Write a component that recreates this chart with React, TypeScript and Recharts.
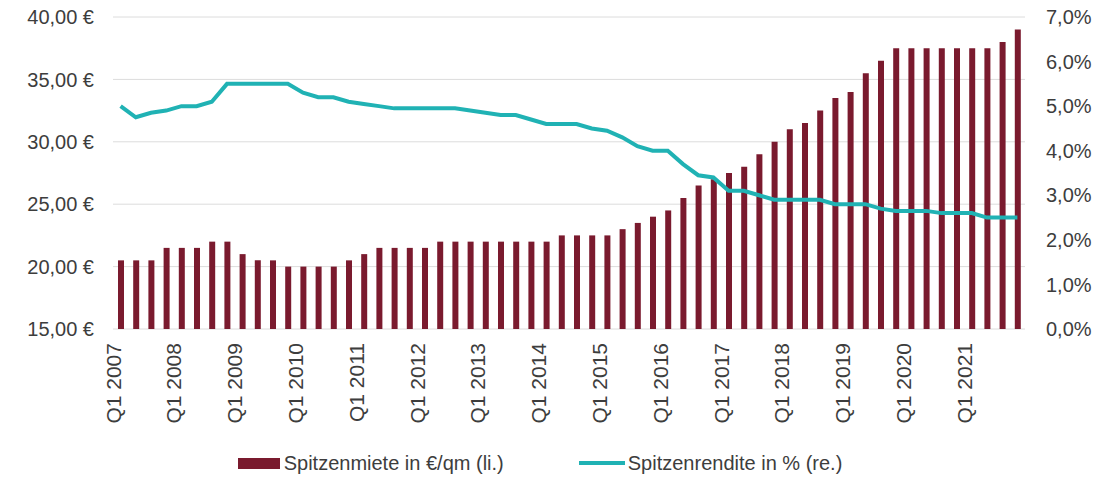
import {
  ComposedChart,
  Bar,
  Line,
  XAxis,
  YAxis,
  CartesianGrid,
  Legend,
} from "recharts";

const YEARS = [2007, 2008, 2009, 2010, 2011, 2012, 2013, 2014, 2015, 2016, 2017, 2018, 2019, 2020, 2021];
const QUARTERS = ["Q1", "Q2", "Q3", "Q4"];

// Spitzenmiete in €/qm (linke Achse)
const RENT = [
  20.5, 20.5, 20.5, 21.5, 21.5, 21.5, 22, 22,
  21, 20.5, 20.5, 20, 20, 20, 20, 20.5,
  21, 21.5, 21.5, 21.5, 21.5, 22, 22, 22,
  22, 22, 22, 22, 22, 22.5, 22.5, 22.5,
  22.5, 23, 23.5, 24, 24.5, 25.5, 26.5, 27,
  27.5, 28, 29, 30, 31, 31.5, 32.5, 33.5,
  34, 35.5, 36.5, 37.5, 37.5, 37.5, 37.5, 37.5,
  37.5, 37.5, 38, 39,
];

// Spitzenrendite in % (rechte Achse)
const YIELD = [
  5.0, 4.75, 4.85, 4.9, 5.0, 5.0, 5.1, 5.5,
  5.5, 5.5, 5.5, 5.5, 5.3, 5.2, 5.2, 5.1,
  5.05, 5.0, 4.95, 4.95, 4.95, 4.95, 4.95, 4.9,
  4.85, 4.8, 4.8, 4.7, 4.6, 4.6, 4.6, 4.5,
  4.45, 4.3, 4.1, 4.0, 4.0, 3.7, 3.45, 3.4,
  3.1, 3.1, 3.0, 2.9, 2.9, 2.9, 2.9, 2.8,
  2.8, 2.8, 2.7, 2.65, 2.65, 2.65, 2.6, 2.6,
  2.6, 2.5, 2.5, 2.5,
];

const LEFT_TICKS = [15, 20, 25, 30, 35, 40];
const RIGHT_TICKS = [0, 1, 2, 3, 4, 5, 6, 7];

const BAR_COLOR = "#7a1a2e";
const LINE_COLOR = "#20b2b4";
const TEXT_COLOR = "#3d3d3d";
const FONT = "'Liberation Sans', Arial, sans-serif";

const LABELS = YEARS.flatMap((y) => QUARTERS.map((q) => `${q} ${y}`));
const data = LABELS.map((q, i) => ({ q, rent: RENT[i], yield: YIELD[i] }));

const fmtEuro = (v: number) => `${v.toFixed(2).replace(".", ",")} €`;
const fmtPct = (v: number) => `${v.toFixed(1).replace(".", ",")}%`;

function QuarterTick({ x, y, payload }: any) {
  return (
    <text
      x={x}
      y={y + 6}
      transform={`rotate(-90, ${x}, ${y + 6})`}
      textAnchor="end"
      fill={TEXT_COLOR}
      fontSize={21}
      fontFamily={FONT}
    >
      {payload.value}
    </text>
  );
}

function ChartLegend() {
  return (
    <div
      style={{
        display: "flex",
        justifyContent: "center",
        alignItems: "center",
        height: 48,
        paddingTop: 20,
        boxSizing: "border-box",
        paddingRight: 15,
        fontFamily: FONT,
        fontSize: 20,
        color: TEXT_COLOR,
      }}
    >
      <div style={{ display: "flex", alignItems: "center" }}>
        <span style={{ display: "inline-block", width: 42, height: 11, background: BAR_COLOR, marginRight: 4 }} />
        <span>Spitzenmiete in €/qm (li.)</span>
      </div>
      <div style={{ display: "flex", alignItems: "center", marginLeft: 75 }}>
        <span style={{ display: "inline-block", width: 46, height: 4, background: LINE_COLOR, marginRight: 3 }} />
        <span>Spitzenrendite in % (re.)</span>
      </div>
    </div>
  );
}

export default function App() {
  return (
    <div style={{ position: "absolute", left: 0, top: 0, background: "#fff" }}>
      <ComposedChart
        width={1095}
        height={477}
        data={data}
        margin={{ top: 17, right: 0, bottom: 0, left: 0 }}
        barCategoryGap={0}
      >
        <CartesianGrid vertical={false} stroke="#dcdcdc" yAxisId="left" />
        <XAxis
          dataKey="q"
          interval={3}
          height={100}
          tickLine={false}
          axisLine={false}
          tick={<QuarterTick />}
        />
        <YAxis
          yAxisId="left"
          orientation="left"
          width={113}
          domain={[15, 40]}
          ticks={LEFT_TICKS}
          tickFormatter={fmtEuro}
          axisLine={false}
          tickLine={false}
          tickMargin={13}
          tick={{ fill: TEXT_COLOR, fontSize: 20, fontFamily: FONT }}
        />
        <YAxis
          yAxisId="right"
          orientation="right"
          width={70}
          domain={[0, 7]}
          ticks={RIGHT_TICKS}
          tickFormatter={fmtPct}
          axisLine={false}
          tickLine={false}
          tickMargin={15}
          tick={{ fill: TEXT_COLOR, fontSize: 20, fontFamily: FONT, textAnchor: "start" }}
        />
        <Legend verticalAlign="bottom" height={48} content={<ChartLegend />} />
        <Bar
          yAxisId="left"
          dataKey="rent"
          fill={BAR_COLOR}
          barSize={6}
          isAnimationActive={false}
        />
        <Line
          yAxisId="right"
          dataKey="yield"
          type="linear"
          stroke={LINE_COLOR}
          strokeWidth={4}
          dot={false}
          isAnimationActive={false}
        />
      </ComposedChart>
    </div>
  );
}
